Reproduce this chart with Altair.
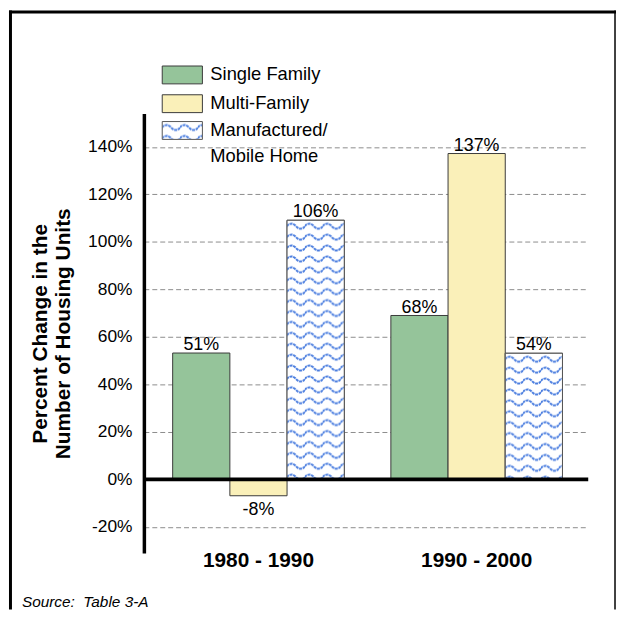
import altair as alt
import pandas as pd
from urllib.parse import quote

# ---------------- data ----------------
periods = ["1980 - 1990", "1990 - 2000"]
types = ["Single Family", "Multi-Family", "Manufactured/Mobile Home"]
single_family = [53.2, 69.0]
multi_family = [-6.9, 137.2]
manufactured = [109.1, 53.1]
sf_labels = ["51%", "68%"]
mf_labels = ["-8%", "137%"]
mh_labels = ["106%", "54%"]
y_ticks = [-20, 0, 20, 40, 60, 80, 100, 120, 140]
legend_labels = ["Single Family", "Multi-Family", "Manufactured/\nMobile Home"]
colors = ["#95c49a", "#faf0b9", "#ffffff"]
y_title = ["Percent Change in the", "Number of Housing Units"]
source_text = "Source:\u00a0 Table 3-A"

FONT = "Liberation Sans"

rows = []
for i, p in enumerate(periods):
    for t, vals, labs in zip(types, [single_family, multi_family, manufactured],
                             [sf_labels, mf_labels, mh_labels]):
        rows.append({"period": p, "type": t, "value": vals[i], "label": labs[i]})
df = pd.DataFrame(rows)

# wavy pattern tile as an svg image (no viewBox -> pattern keeps its pixel size)
wave_svg = (
    "<svg xmlns='http://www.w3.org/2000/svg' width='100%' height='100%'>"
    "<defs><pattern id='w' x='0' y='0' width='18' height='11' patternUnits='userSpaceOnUse'>"
    "<path d='M-0.5,6 Q4.5,1 9,6 T18.5,6' fill='none' stroke='#4a7ddf' "
    "stroke-width='2.1' stroke-dasharray='3,0.7'/></pattern></defs>"
    "<rect width='100%' height='100%' fill='white'/>"
    "<rect width='100%' height='100%' fill='url(#w)'/></svg>"
)
PATTERN = "data:image/svg+xml;charset=utf-8," + quote(wave_svg)

W, H = 445, 443

X = alt.X(
    "period:N", sort=periods,
    scale=alt.Scale(domain=periods, paddingInner=0.2136, paddingOuter=0.1182, align=0.558),
    axis=alt.Axis(title=None, domain=False, ticks=False, labelAngle=0,
                  labelFont=FONT, labelFontSize=21, labelFontWeight="bold",
                  labelColor="black", labelPadding=-3),
)
XO = alt.XOffset("type:N", sort=types,
                 scale=alt.Scale(domain=types, paddingInner=0, paddingOuter=0))
Y = alt.Y(
    "value:Q",
    scale=alt.Scale(domain=[-31, 154], nice=False, zero=False),
    axis=alt.Axis(
        values=y_ticks, labelExpr="datum.value + '%'", ticks=False, tickSize=0,
        labelFont=FONT, labelFontSize=17.5, labelColor="black", labelPadding=12,
        domainColor="black", domainWidth=3.5,
        grid=True, gridColor="#8c8c8c", gridDash=[5, 3], gridWidth=1,
        title=y_title, titleFont=FONT, titleFontSize=21, titleFontWeight="bold",
        titleColor="black", titleAngle=270, titleAlign="center", titleBaseline="middle",
        titleX=-104, titleY=221.5, titleLineHeight=23,
    ),
)

base = alt.Chart(df).encode(x=X, xOffset=XO)

bars = base.mark_bar(stroke="#3a3a3a", strokeWidth=1).encode(
    y=Y, y2=alt.datum(0),
    color=alt.Color("type:N", scale=alt.Scale(domain=types, range=colors), legend=None),
)
mh = base.transform_filter(alt.datum.type == types[2])
pattern = mh.mark_image(aspect=False).encode(y=Y, y2=alt.datum(0), url=alt.value(PATTERN))
outline = mh.mark_bar(fillOpacity=0, stroke="#555555", strokeWidth=1).encode(y=Y, y2=alt.datum(0))

pos_text = base.transform_filter("datum.value > 0").mark_text(
    baseline="alphabetic", dy=-3, font=FONT, fontSize=18, color="black"
).encode(y=Y, text="label:N")
neg_text = base.transform_filter("datum.value < 0").mark_text(
    baseline="top", dy=5, font=FONT, fontSize=18, color="black"
).encode(y=Y, text="label:N")

one = pd.DataFrame({"k": [0]})
zero_rule = alt.Chart(one).mark_rule(color="black", strokeWidth=4).encode(
    y=alt.datum(0), x=alt.value(0), x2=alt.value(448)
)

def vrule(x, y1, y2, w):
    return alt.Chart(one).mark_rule(color="black", strokeWidth=w).encode(
        x=alt.value(x), y=alt.value(y1), y2=alt.value(y2))

def hrule(y, x1, x2, w):
    return alt.Chart(one).mark_rule(color="black", strokeWidth=w).encode(
        y=alt.value(y), x=alt.value(x1), x2=alt.value(x2))

frame = [
    hrule(-102.5, -136, 476.5, 3),
    vrule(-134.5, -104, 500, 3),
    vrule(475, -104, 500, 1.5),
]

# legend
leg_layers = []
box_y = [(-48, -30), (-19, -1), (8, 26)]
text_y = [-40, -11, 17]
for i, lab in enumerate(legend_labels):
    d = pd.DataFrame({"label": [lab]})
    y1, y2 = box_y[i]
    if i < 2:
        leg_layers.append(alt.Chart(d).mark_rect(fill=colors[i], stroke="#3a3a3a", strokeWidth=1).encode(
            x=alt.value(18.5), x2=alt.value(59), y=alt.value(y1), y2=alt.value(y2)))
    else:
        leg_layers.append(alt.Chart(d).mark_image(aspect=False).encode(
            x=alt.value(18.5), x2=alt.value(59), y=alt.value(y1), y2=alt.value(y2),
            url=alt.value(PATTERN)))
        leg_layers.append(alt.Chart(d).mark_rect(fillOpacity=0, stroke="#555555", strokeWidth=1).encode(
            x=alt.value(18.5), x2=alt.value(59), y=alt.value(y1), y2=alt.value(y2)))
    leg_layers.append(alt.Chart(d).mark_text(
        align="left", baseline="middle", font=FONT, fontSize=18.5, color="black",
        lineBreak="\n", lineHeight=26).encode(
        x=alt.value(67), y=alt.value(text_y[i]), text="label:N"))

source = alt.Chart(pd.DataFrame({"s": [source_text]})).mark_text(
    align="left", baseline="alphabetic", font=FONT, fontSize=15.5, fontStyle="italic", color="black"
).encode(x=alt.value(-123), y=alt.value(497), text="s:N")

chart = alt.layer(
    bars, pattern, outline, zero_rule, pos_text, neg_text, source, *leg_layers, *frame
).properties(
    width=W, height=H,
    padding={"left": 137, "top": 104, "right": 31, "bottom": 57},
    autosize="none", background="white",
).configure_view(stroke=None)

chart.save("out.html", embed_options={"renderer": "svg", "actions": False})
